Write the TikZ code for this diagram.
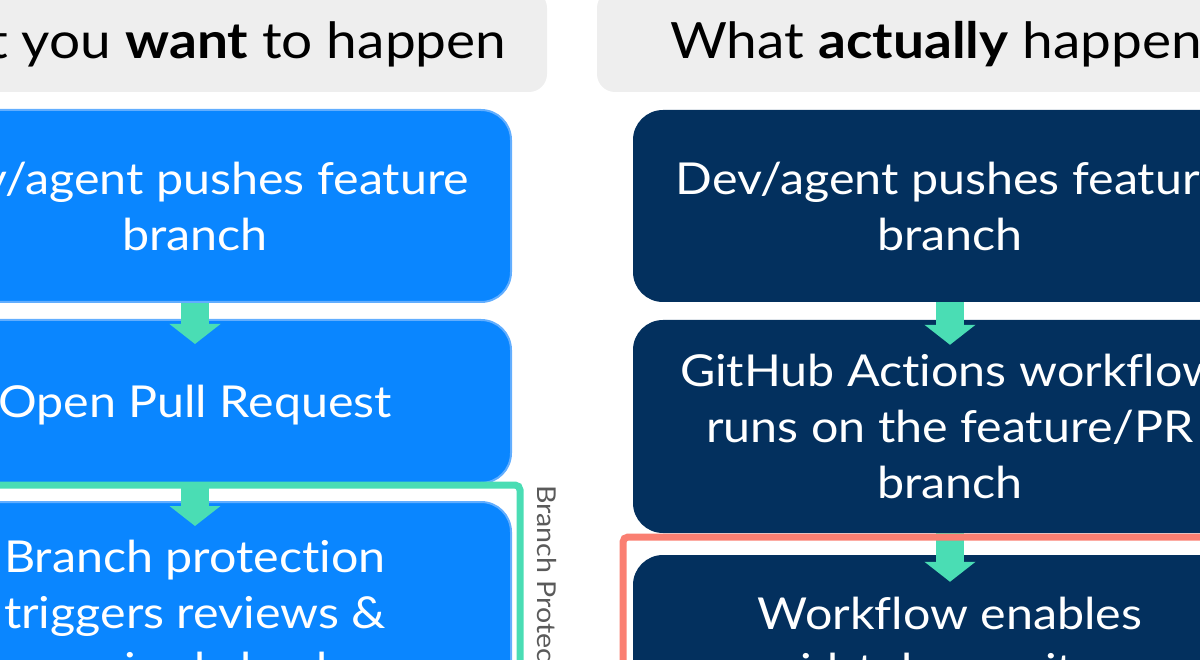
\documentclass[tikz,border=0pt]{standalone}
\usepackage{fontspec}
\setmainfont{Lato}[Ligatures=NoCommon, FakeStretch=1.1]
\usetikzlibrary{arrows.meta}
\definecolor{hdrgray}{HTML}{EEEEEE}
\definecolor{wantblue}{HTML}{0A86FF}
\definecolor{wantedge}{HTML}{62AEFF}
\definecolor{navy}{HTML}{03305E}
\definecolor{flowgreen}{HTML}{4ADDB4}
\definecolor{salmon}{HTML}{FA7F72}
\definecolor{labelgray}{HTML}{5A5A5A}
\tikzset{
  hdr/.style={fill=hdrgray, rounded corners=18pt, inner sep=0pt},
  hdrtext/.style={text=black, inner sep=0pt, font=\fontsize{50}{60}\selectfont},
  wantbox/.style={fill=wantblue, draw=wantedge, line width=2pt, rounded corners=30pt,
    inner sep=0pt, text=white, align=center, font=\fontsize{44}{56}\selectfont},
  actbox/.style={fill=navy, rounded corners=30pt, inner sep=0pt, text=white,
    align=center, font=\fontsize{44}{56}\selectfont},
  flow/.style={draw=flowgreen, line width=28pt,
    -{Triangle[width=50pt,length=20pt,fill=flowgreen]}},
  frameline/.style={line width=7pt, rounded corners=5pt},
}
\begin{document}
\begin{tikzpicture}[x=1pt,y=-1pt]
\useasboundingbox (0,0) rectangle (1200,660);
% headers
\node[hdr, minimum width=692pt, minimum height=102pt] (hl) at (201,41) {};
\node[hdrtext] (hlt) at (190,44) {What you \textbf{want} to happen};
\node[hdr, minimum width=702pt, minimum height=102pt] (hr) at (948,41) {};
\node[hdrtext] (hrt) at (948,44) {What \textbf{actually} happens};
% left column
\node[wantbox, minimum width=632pt, minimum height=192pt] (l1) at (195,206) {Dev/agent pushes feature\\branch};
\node[wantbox, minimum width=632pt, minimum height=163pt, text depth=0pt] (l2) at (195,401.5) {Open Pull Request};
\node[wantbox, minimum width=632pt, minimum height=229pt] (l3) at (195,616.5) {Branch protection\\triggers reviews \&\\required checks};
% right column
\node[actbox, minimum width=634pt, minimum height=192pt] (r1) at (950,206) {Dev/agent pushes feature\\branch};
\node[actbox, minimum width=634pt, minimum height=213pt, text depth=0pt] (r2) at (950,426.5) {GitHub Actions workflow\\runs on the feature/PR\\branch};
\node[actbox, minimum width=634pt, minimum height=215pt] (r3) at (950,662.5) {};
\node[text=white, align=center, font=\fontsize{44}{56}\selectfont, anchor=north] (r3t) at (950,594) {Workflow enables\\id-token:write};
% arrows
\draw[flow] (l1.south) -- ([yshift=-25pt]l2.north);
\draw[flow] (l2.south) -- ([yshift=-25pt]l3.north);
\draw[flow] (r1.south) -- ([yshift=-25pt]r2.north);
\draw[flow] (r2.south) -- ([yshift=-27pt]r3.north);
% frames
\coordinate (gA) at (-20,485);
\coordinate (gB) at (520,485);
\coordinate (gC) at (520,700);
\draw[frameline, draw=flowgreen] (gA) -- (gB) -- (gC);
\coordinate (sA) at (623,700);
\coordinate (sB) at (623,537);
\coordinate (sC) at (1260,537);
\draw[frameline, draw=salmon] (sA) -- (sB) -- (sC);
\node[rotate=-90, anchor=south west, text=labelgray, inner sep=0pt,
  font=\fontsize{26}{30}\selectfont] (bp) at (537,485) {Branch Protection};
\end{tikzpicture}
\end{document}
